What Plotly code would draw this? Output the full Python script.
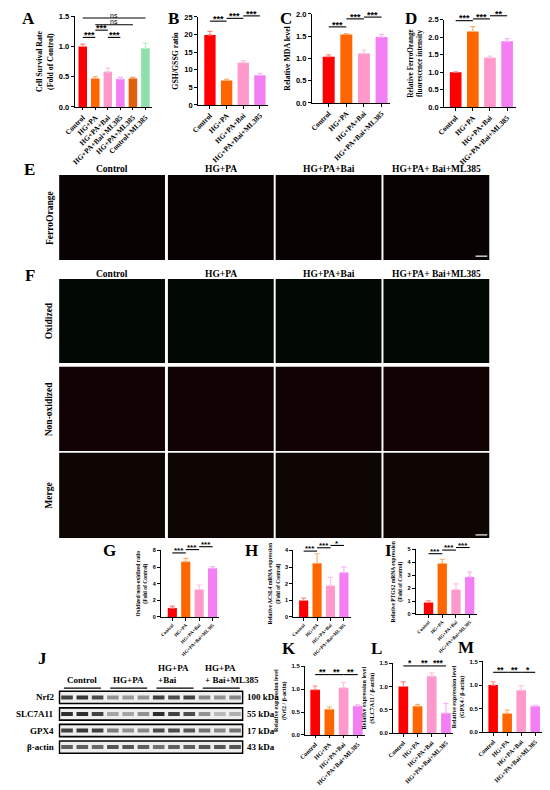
import plotly.graph_objects as go

# the page has an 8px body margin, so the figure is drawn 8px smaller
PAGE_OFF = 8
FW, FH = 550 - PAGE_OFF, 790 - PAGE_OFF
SERIF = "Liberation Serif"
SANS = "Liberation Sans"

groups4 = ["Control", "HG+PA", "HG+PA+Bai", "HG+PA+Bai+ML385"]
groups6 = groups4 + ["HG+PA+ML385", "Control+ML385"]

colors6 = ["#FF0000", "#FF6600", "#FF99CC", "#F47EF4", "#E0600C", "#8FE0A8"]
err_colors6 = ["#FF8A8A", "#FFB070", "#FFC4E0", "#F8B4F8", "#F0A060", "#B8F0C8"]

# A-D
survival = [1.0, 0.47, 0.58, 0.46, 0.47, 0.97]
survival_err = [0.04, 0.03, 0.06, 0.03, 0.02, 0.08]
gsh_gssg = [19.9, 6.97, 12.0, 8.4]
gsh_gssg_err = [1.0, 0.3, 0.6, 0.6]
mda = [1.04, 1.54, 1.11, 1.48]
mda_err = [0.04, 0.02, 0.08, 0.06]
ferro = [1.0, 2.16, 1.41, 1.88]
ferro_err = [0.01, 0.14, 0.05, 0.08]
# G-I
ox_ratio = [1.07, 6.65, 3.29, 5.86]
ox_ratio_err = [0.23, 0.4, 0.55, 0.2]
acsl4 = [0.99, 3.23, 1.88, 2.67]
acsl4_err = [0.14, 0.57, 0.5, 0.34]
ptgs2 = [0.89, 3.91, 1.88, 2.87]
ptgs2_err = [0.13, 0.33, 0.46, 0.38]
# K-M
nrf2 = [0.99, 0.56, 1.03, 0.63]
nrf2_err = [0.08, 0.05, 0.12, 0.03]
slc7a11 = [1.0, 0.58, 1.22, 0.43]
slc7a11_err = [0.1, 0.04, 0.07, 0.21]
gpx4 = [1.0, 0.40, 0.89, 0.55]
gpx4_err = [0.07, 0.07, 0.1, 0.02]

# significance brackets: (from, to, height, label)
sig_a = [(0, 1, 1.15, "***"), (1, 2, 1.27, "***"), (2, 3, 1.15, "***"),
         (1, 4, 1.36, "ns"), (0, 5, 1.47, "ns")]
sig_b = [(0, 1, 23.8, "***"), (1, 2, 24.6, "***"), (2, 3, 25.3, "***")]
sig_c = [(0, 1, 1.71, "***"), (1, 2, 1.89, "***"), (2, 3, 1.93, "***")]
sig_d = [(0, 1, 2.47, "***"), (1, 2, 2.52, "***"), (2, 3, 2.61, "**")]
sig_g = [(0, 1, 7.7, "***"), (1, 2, 8.1, "***"), (2, 3, 8.45, "***")]
sig_h = [(0, 1, 3.96, "***"), (1, 2, 4.16, "***"), (2, 3, 4.3, "*")]
sig_i = [(0, 1, 4.67, "***"), (1, 2, 4.95, "***"), (2, 3, 5.15, "***")]
sig_k = [(0, 1, 1.32, "**"), (1, 2, 1.32, "**"), (2, 3, 1.32, "**")]
sig_l = [(0, 1, 1.44, "*"), (1, 2, 1.44, "**"), (2, 3, 1.44, "***")]
sig_m = [(0, 1, 1.27, "**"), (1, 2, 1.27, "**"), (2, 3, 1.27, "*")]

# western blot band darkness (0 = none, 1 = black), 12 lanes per row
blot_rows = ["Nrf2", "SLC7A11", "GPX4", "β-actin"]
blot_kda = ["100 kDa", "55 kDa", "17 kDa", "43 kDa"]
band_nrf2 = [0.85, 0.9, 0.8, 0.45, 0.4, 0.45, 0.85, 0.8, 0.85, 0.5, 0.45, 0.5]
band_slc7a11 = [0.95, 0.95, 0.85, 0.35, 0.35, 0.45, 0.95, 0.85, 0.8, 0.45, 0.25, 0.3]
band_gpx4 = [0.85, 0.9, 0.85, 0.55, 0.45, 0.5, 0.8, 0.8, 0.75, 0.6, 0.5, 0.6]
band_actin = [0.7, 0.7, 0.65, 0.75, 0.75, 0.7, 0.6, 0.7, 0.7, 0.75, 0.75, 0.75]
blot_groups = ["Control", "HG+PA", "HG+PA<br>+Bai", "HG+PA<br>+ Bai+ML385"]

micro_cols = ["Control", "HG+PA", "HG+PA+Bai", "HG+PA+ Bai+ML385"]
micro_rows = ["FerroOrange", "Oxidized", "Non-oxidized", "Merge"]
# overall tint of each microscopy row (dark field)
micro_tints = ["#080202", "#020802", "#110303", "#0D0603"]


def px(x):
    return (x - PAGE_OFF) / FW


def py(y):
    return 1 - (y - PAGE_OFF) / FH


panels = [
    dict(letter="A", lx=18, ly=15, cats=groups6, vals=survival, errs=survival_err,
         x0=65, sp=12.8, off=0.63, top=12.3, bot=104, ymax=1.5, dtick=0.5, fmt=".1f",
         title="Cell Survival Rate<br>(Fold of Control)", tsize=7.8, xsize=7.3, ysize=7.5,
         ssize=9, sig=sig_a),
    dict(letter="B", lx=166, ly=15, cats=groups4, vals=gsh_gssg, errs=gsh_gssg_err,
         x0=191, sp=17, off=0.7, top=13, bot=102, ymax=25, dtick=5, fmt="d",
         title="GSH/GSSG ratio", tsize=7.8, xsize=7.3, ysize=7.5, ssize=9, sig=sig_b),
    dict(letter="C", lx=281, ly=15, cats=groups4, vals=mda, errs=mda_err,
         x0=307, sp=18, off=0.95, top=10, bot=100, ymax=2.0, dtick=0.5, fmt=".1f",
         title="Relative MDA level", tsize=7.8, xsize=7.3, ysize=7.5, ssize=9, sig=sig_c),
    dict(letter="D", lx=408, ly=15, cats=groups4, vals=ferro, errs=ferro_err,
         x0=442, sp=17.5, off=0.67, top=15.7, bot=104.3, ymax=2.5, dtick=0.5, fmt=".1f",
         title="Relative FerroOrange<br>fluorescence intensity", tsize=7.3, xsize=7.3,
         ysize=7.5, ssize=9, sig=sig_d),
    dict(letter="G", lx=100, ly=553, cats=groups4, vals=ox_ratio, errs=ox_ratio_err,
         x0=153, sp=13.7, off=0.84, top=552.7, bot=620, ymax=8, dtick=2, fmt="d",
         title="Oxidized/non-oxidized ratio<br>(Fold of Control)", tsize=5.5, xsize=4.8,
         ysize=5.5, ssize=8, sig=sig_g),
    dict(letter="H", lx=245, ly=553, cats=groups4, vals=acsl4, errs=acsl4_err,
         x0=288, sp=13.7, off=0.77, top=552.7, bot=620, ymax=4, dtick=1, fmt="d",
         title="Relative ACSL4 mRNA expression<br>(Fold of Control)", tsize=5.5, xsize=4.8,
         ysize=5.5, ssize=8, sig=sig_h),
    dict(letter="I", lx=385, ly=553, cats=groups4, vals=ptgs2, errs=ptgs2_err,
         x0=413, sp=14, off=0.93, top=551.7, bot=617, ymax=5, dtick=1, fmt="d",
         title="Relative PTGS2 mRNA expression<br>(Fold of Control)", tsize=5.5, xsize=4.8,
         ysize=5.5, ssize=8, sig=sig_i),
    dict(letter="K", lx=284, ly=652, cats=groups4, vals=nrf2, errs=nrf2_err,
         x0=300, sp=14.5, off=0.71, top=670, bot=739.3, ymax=1.5, dtick=0.5, fmt=".1f",
         title="Relative expression level<br>(Nrf2 / β-actin)", tsize=6, xsize=6.3,
         ysize=6, ssize=8.5, sig=sig_k),
    dict(letter="L", lx=373, ly=652, cats=groups4, vals=slc7a11, errs=slc7a11_err,
         x0=390, sp=14.5, off=0.71, top=666.7, bot=737.7, ymax=1.5, dtick=0.5, fmt=".1f",
         title="Relative expression level<br>(SLC7A11 / β-actin)", tsize=6, xsize=6.3,
         ysize=6, ssize=8.5, sig=sig_l),
    dict(letter="M", lx=464, ly=651, cats=groups4, vals=gpx4, errs=gpx4_err,
         x0=481.7, sp=14.3, off=0.72, top=665, bot=736.7, ymax=1.5, dtick=0.5, fmt=".1f",
         title="Relative expression level<br>(GPX4 / β-actin)", tsize=6, xsize=6.3,
         ysize=6, ssize=8.5, sig=sig_m),
]

fig = go.Figure()
annotations = []
shapes = []


def label(text, x, y, size, **kw):
    d = dict(text=text, x=px(x), y=py(y), xref="paper", yref="paper", showarrow=False,
             xanchor="center", yanchor="middle",
             font=dict(family=SERIF, size=size, color="black", weight="bold"))
    d.update(kw)
    annotations.append(d)


for k, p in enumerate(panels, start=1):
    n = len(p["cats"])
    xa, ya = "x%d" % k, "y%d" % k
    x1 = p["x0"] + (p["off"] + n - 0.5) * p["sp"]
    for i in range(n):
        fig.add_trace(go.Bar(
            x=[p["cats"][i]], y=[p["vals"][i]], xaxis=xa, yaxis=ya, width=0.68,
            marker=dict(color=colors6[i], line=dict(width=0)),
            error_y=dict(type="data", array=[p["errs"][i]], arrayminus=[0],
                         color=err_colors6[i], thickness=1.2, width=2.5),
            showlegend=False, hoverinfo="skip",
        ))
    fig.layout["xaxis%d" % k] = dict(
        domain=[px(p["x0"]), px(x1)], anchor=ya, range=[-p["off"], n - 0.5],
        type="category", showline=True, linecolor="black", linewidth=1.2,
        ticks="outside", ticklen=2.5, tickwidth=1, tickcolor="black", tickangle=-45,
        tickfont=dict(family=SERIF, size=p["xsize"], color="black", weight="bold"),
        showgrid=False, zeroline=False, fixedrange=True,
    )
    fig.layout["yaxis%d" % k] = dict(
        domain=[py(p["bot"]), py(p["top"])], anchor=xa, range=[0, p["ymax"]],
        dtick=p["dtick"], tick0=0, tickformat=p["fmt"], showline=True, linecolor="black",
        linewidth=1.2, ticks="outside", ticklen=3, tickwidth=1, tickcolor="black",
        tickfont=dict(family=SANS, size=p["ysize"], color="black", weight="bold"),
        title=dict(text=p["title"], standoff=4,
                   font=dict(family=SERIF, size=p["tsize"], color="black", weight="bold")),
        showgrid=False, zeroline=False, fixedrange=True,
    )
    label(p["letter"], p["lx"], p["ly"], 17)

    def to_px(i, v, p=p):
        return (p["x0"] + (i + p["off"]) * p["sp"],
                p["bot"] - v / p["ymax"] * (p["bot"] - p["top"]))

    for a, b, h, lab in p["sig"]:
        xa_, yy = to_px(a, h)
        xb_, _ = to_px(b, h)
        shapes.append(dict(type="line", xref="paper", yref="paper", x0=px(xa_), x1=px(xb_),
                           y0=py(yy), y1=py(yy), line=dict(color="black", width=1.1)))
        is_ns = lab == "ns"
        annotations.append(dict(
            text=lab, x=px((xa_ + xb_) / 2), y=py(yy), xref="paper", yref="paper",
            showarrow=False, xanchor="center", yanchor="bottom", borderpad=0,
            yshift=-1.5 if is_ns else -p["ssize"] * 0.42,
            font=dict(family=SANS, size=7 if is_ns else p["ssize"], color="black",
                      weight="normal" if is_ns else "bold")))

# microscopy panels (E, F) as dark image frames
col_x = [(49, 157), (160, 268), (270, 378), (380, 488)]
row_y = [(173, 259), (278, 363), (367, 452), (454, 540)]
for (c0, c1), name in zip(col_x, micro_cols):
    for ty in (167, 273):
        label(name, (c0 + c1) / 2, ty, 9.5)
    for (r0, r1), tint in zip(row_y, micro_tints):
        shapes.append(dict(type="rect", xref="paper", yref="paper", x0=px(c0), x1=px(c1),
                           y0=py(r1), y1=py(r0), fillcolor=tint, line=dict(width=0),
                           layer="below"))
for sy in (255, 537):
    shapes.append(dict(type="line", xref="paper", yref="paper", x0=px(474), x1=px(486),
                       y0=py(sy), y1=py(sy), line=dict(color="white", width=1.2)))

for text, (r0, r1) in zip(micro_rows, row_y):
    label(text, 39, (r0 + r1) / 2, 9.5, textangle=-90)
for letter, lx, ly in [("E", 19, 167), ("F", 19, 275), ("J", 32, 662)]:
    label(letter, lx, ly, 17)

# western blot (J)
kb = len(panels) + 1
bx0, bx1, by0, by1 = 48.3, 237.3, 693, 760
fig.layout["xaxis%d" % kb] = dict(domain=[px(bx0), px(bx1)], anchor="y%d" % kb,
                                  range=[-0.06, 12.06], visible=False, fixedrange=True)
fig.layout["yaxis%d" % kb] = dict(domain=[py(by1), py(by0)], anchor="x%d" % kb,
                                  range=[3.5, -0.5], visible=False, fixedrange=True)
bands = [band_nrf2, band_slc7a11, band_gpx4, band_actin]
for r, row in enumerate(bands):
    shapes.append(dict(type="rect", xref="x%d" % kb, yref="y%d" % kb, x0=0, x1=12,
                       y0=r - 0.37, y1=r + 0.37, fillcolor="#EEEEEE",
                       line=dict(color="black", width=1.6), layer="below"))
    for lane, d in enumerate(row):
        g = int(235 - d * 200)
        fig.add_trace(go.Scatter(
            x=[lane + 0.12, lane + 0.88], y=[r, r], xaxis="x%d" % kb, yaxis="y%d" % kb,
            mode="lines", line=dict(color="rgb(%d,%d,%d)" % (g, g, g), width=4),
            showlegend=False, hoverinfo="skip"))
    ry = by0 + (r + 0.5) * (by1 - by0) / 4
    label(blot_rows[r], 46, ry, 9, xanchor="right")
    label(blot_kda[r], 238.5, ry, 9, xanchor="left")

lane_w = (bx1 - bx0) / 12
for gi, name in enumerate(blot_groups):
    gx0 = bx0 + (gi * 3 + 0.35) * lane_w
    gx1 = bx0 + (gi * 3 + 2.75) * lane_w
    shapes.append(dict(type="line", xref="paper", yref="paper", x0=px(gx0), x1=px(gx1),
                       y0=py(692), y1=py(692), line=dict(color="black", width=1.2)))
    two = "<br>" in name
    label(name, gx0 if two else (gx0 + gx1) / 2, 691, 9, align="left",
          xanchor="left" if two else "center", yanchor="bottom")

fig.update_layout(
    width=FW, height=FH, margin=dict(l=0, r=0, t=0, b=0),
    paper_bgcolor="white", plot_bgcolor="white", barmode="overlay",
    font=dict(family=SERIF, color="black"),
    annotations=annotations, shapes=shapes, showlegend=False,
)

fig.write_html("out.html")
